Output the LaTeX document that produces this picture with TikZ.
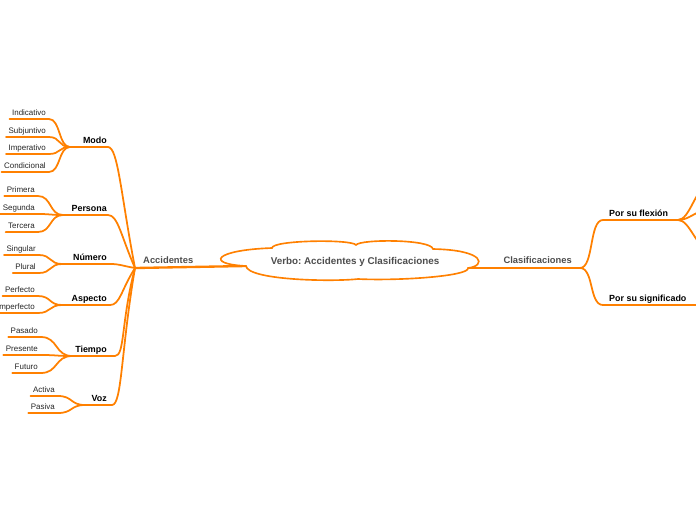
\documentclass[tikz,border=0pt]{standalone}
\usepackage{fontspec}
\setmainfont{Liberation Sans}
\frenchspacing
\definecolor{naranja}{HTML}{FF8000}
\definecolor{gris}{HTML}{4D4D4D}
\tikzset{
  rama/.style={draw=naranja, line width=1.5pt, line cap=round},
  tronco/.style={rama, line width=2pt},
  hoja/.style={font=\fontsize{6.8}{8}\selectfont, text=black!85, inner sep=0pt},
  sub/.style={font=\bfseries\fontsize{7.6}{9}\selectfont, inner sep=0pt},
  tema/.style={font=\bfseries\fontsize{8}{10}\selectfont, text=gris, inner sep=0pt},
}
\begin{document}
\begin{tikzpicture}[x=0.03cm,y=-0.03cm]
    \clip (0,0) rectangle (696,520);
    \coordinate (acc) at (135,268);
    \coordinate (cla) at (580,268);
    \coordinate (izq) at (246,266);
    \coordinate (der) at (468,268);
    \draw[tronco] (izq) -- (acc);
    \draw[tronco] (der) -- (cla);
    \node[tema, anchor=base west] (accidentes) at (143,263) {Accidentes};
    \node[tema, anchor=base east] (clasificaciones) at (572,263) {Clasificaciones};
    % nube central
    \draw[naranja, line width=1.4pt, fill=white] (izq) .. controls (205,264) and (214,250) .. (272,248)
      .. controls (272,240) and (352,239) .. (356,245)
      .. controls (360,239) and (431,239) .. (433,249)
      .. controls (486,250) and (486,266) .. (der)
      .. controls (470,276) and (400,281) .. (358,279)
      .. controls (330,282) and (248,280) .. (izq) -- cycle;
    \node[tema, font=\bfseries\fontsize{8.4}{10}\selectfont] (verbo) at (355,262) {Verbo: Accidentes y Clasificaciones};
    \foreach \g/\nombre/\cx/\xr/\gy/\xh/\hojas in {
      modo/Modo/70/108/147/49/{Indicativo/119,Subjuntivo/137,Imperativo/154,Condicional/172},
      persona/Persona/63/108/215/38/{Primera/196,Segunda/214,Tercera/232},
      numero/Número/62/110/264/39/{Singular/255,Plural/273},
      aspecto/Aspecto/62/110/305/38/{Perfecto/296,Imperfecto/313},
      tiempo/Tiempo/72/115/356/41/{Pasado/337,Presente/355,Futuro/373},
      voz/Voz/85/112/405/58/{Activa/396,Pasiva/413}} {
      \coordinate (\g-v) at (\cx,\gy);
      \coordinate (\g-r) at (\xr,\gy);
      \node[sub, anchor=base east] (\g) at (107,\gy-4) {\nombre};
      \pgfmathsetmacro{\cy}{268+(\gy-268)*0.6}
      \draw[rama] (\g-v) -- (\g-r) .. controls +(10,0) and (121,\cy) .. (acc);
      \pgfmathsetmacro{\d}{(\cx-\xh)*0.55}
      \foreach \t/\ly [count=\i] in \hojas {
        \node[hoja, anchor=base east] (\g-\i) at (\xh-3,\ly-4) {\t};
        \coordinate (\g-\i-r) at (\xh,\ly);
        \draw[rama] ([xshift=-2pt]\g-\i.west |- \g-\i-r) -- (\g-\i-r) .. controls +(\d,0) and +(-\d,0) .. (\g-v);
      }
    }
    \coordinate (flex-l) at (603,220);
    \coordinate (flex-r) at (678,220);
    \coordinate (sig-l) at (603,305);
    \coordinate (sig-r) at (706,305);
    \node[sub, anchor=base west] (flexion) at (609,216) {Por su flexión};
    \node[sub, anchor=base west] (significado) at (609,301) {Por su significado};
    \draw[rama] (cla) .. controls +(14,0) and +(-14,0) .. (flex-l) -- (flex-r);
    \draw[rama] (cla) .. controls +(14,0) and +(-14,0) .. (sig-l) -- (sig-r);
    \foreach \ey [count=\i] in {186,210,248} {
      \coordinate (flex-\i) at (708,\ey);
      \draw[rama] (flex-r) .. controls +(12,0) and +(-12,0) .. (flex-\i);
    }
\end{tikzpicture}
\end{document}
